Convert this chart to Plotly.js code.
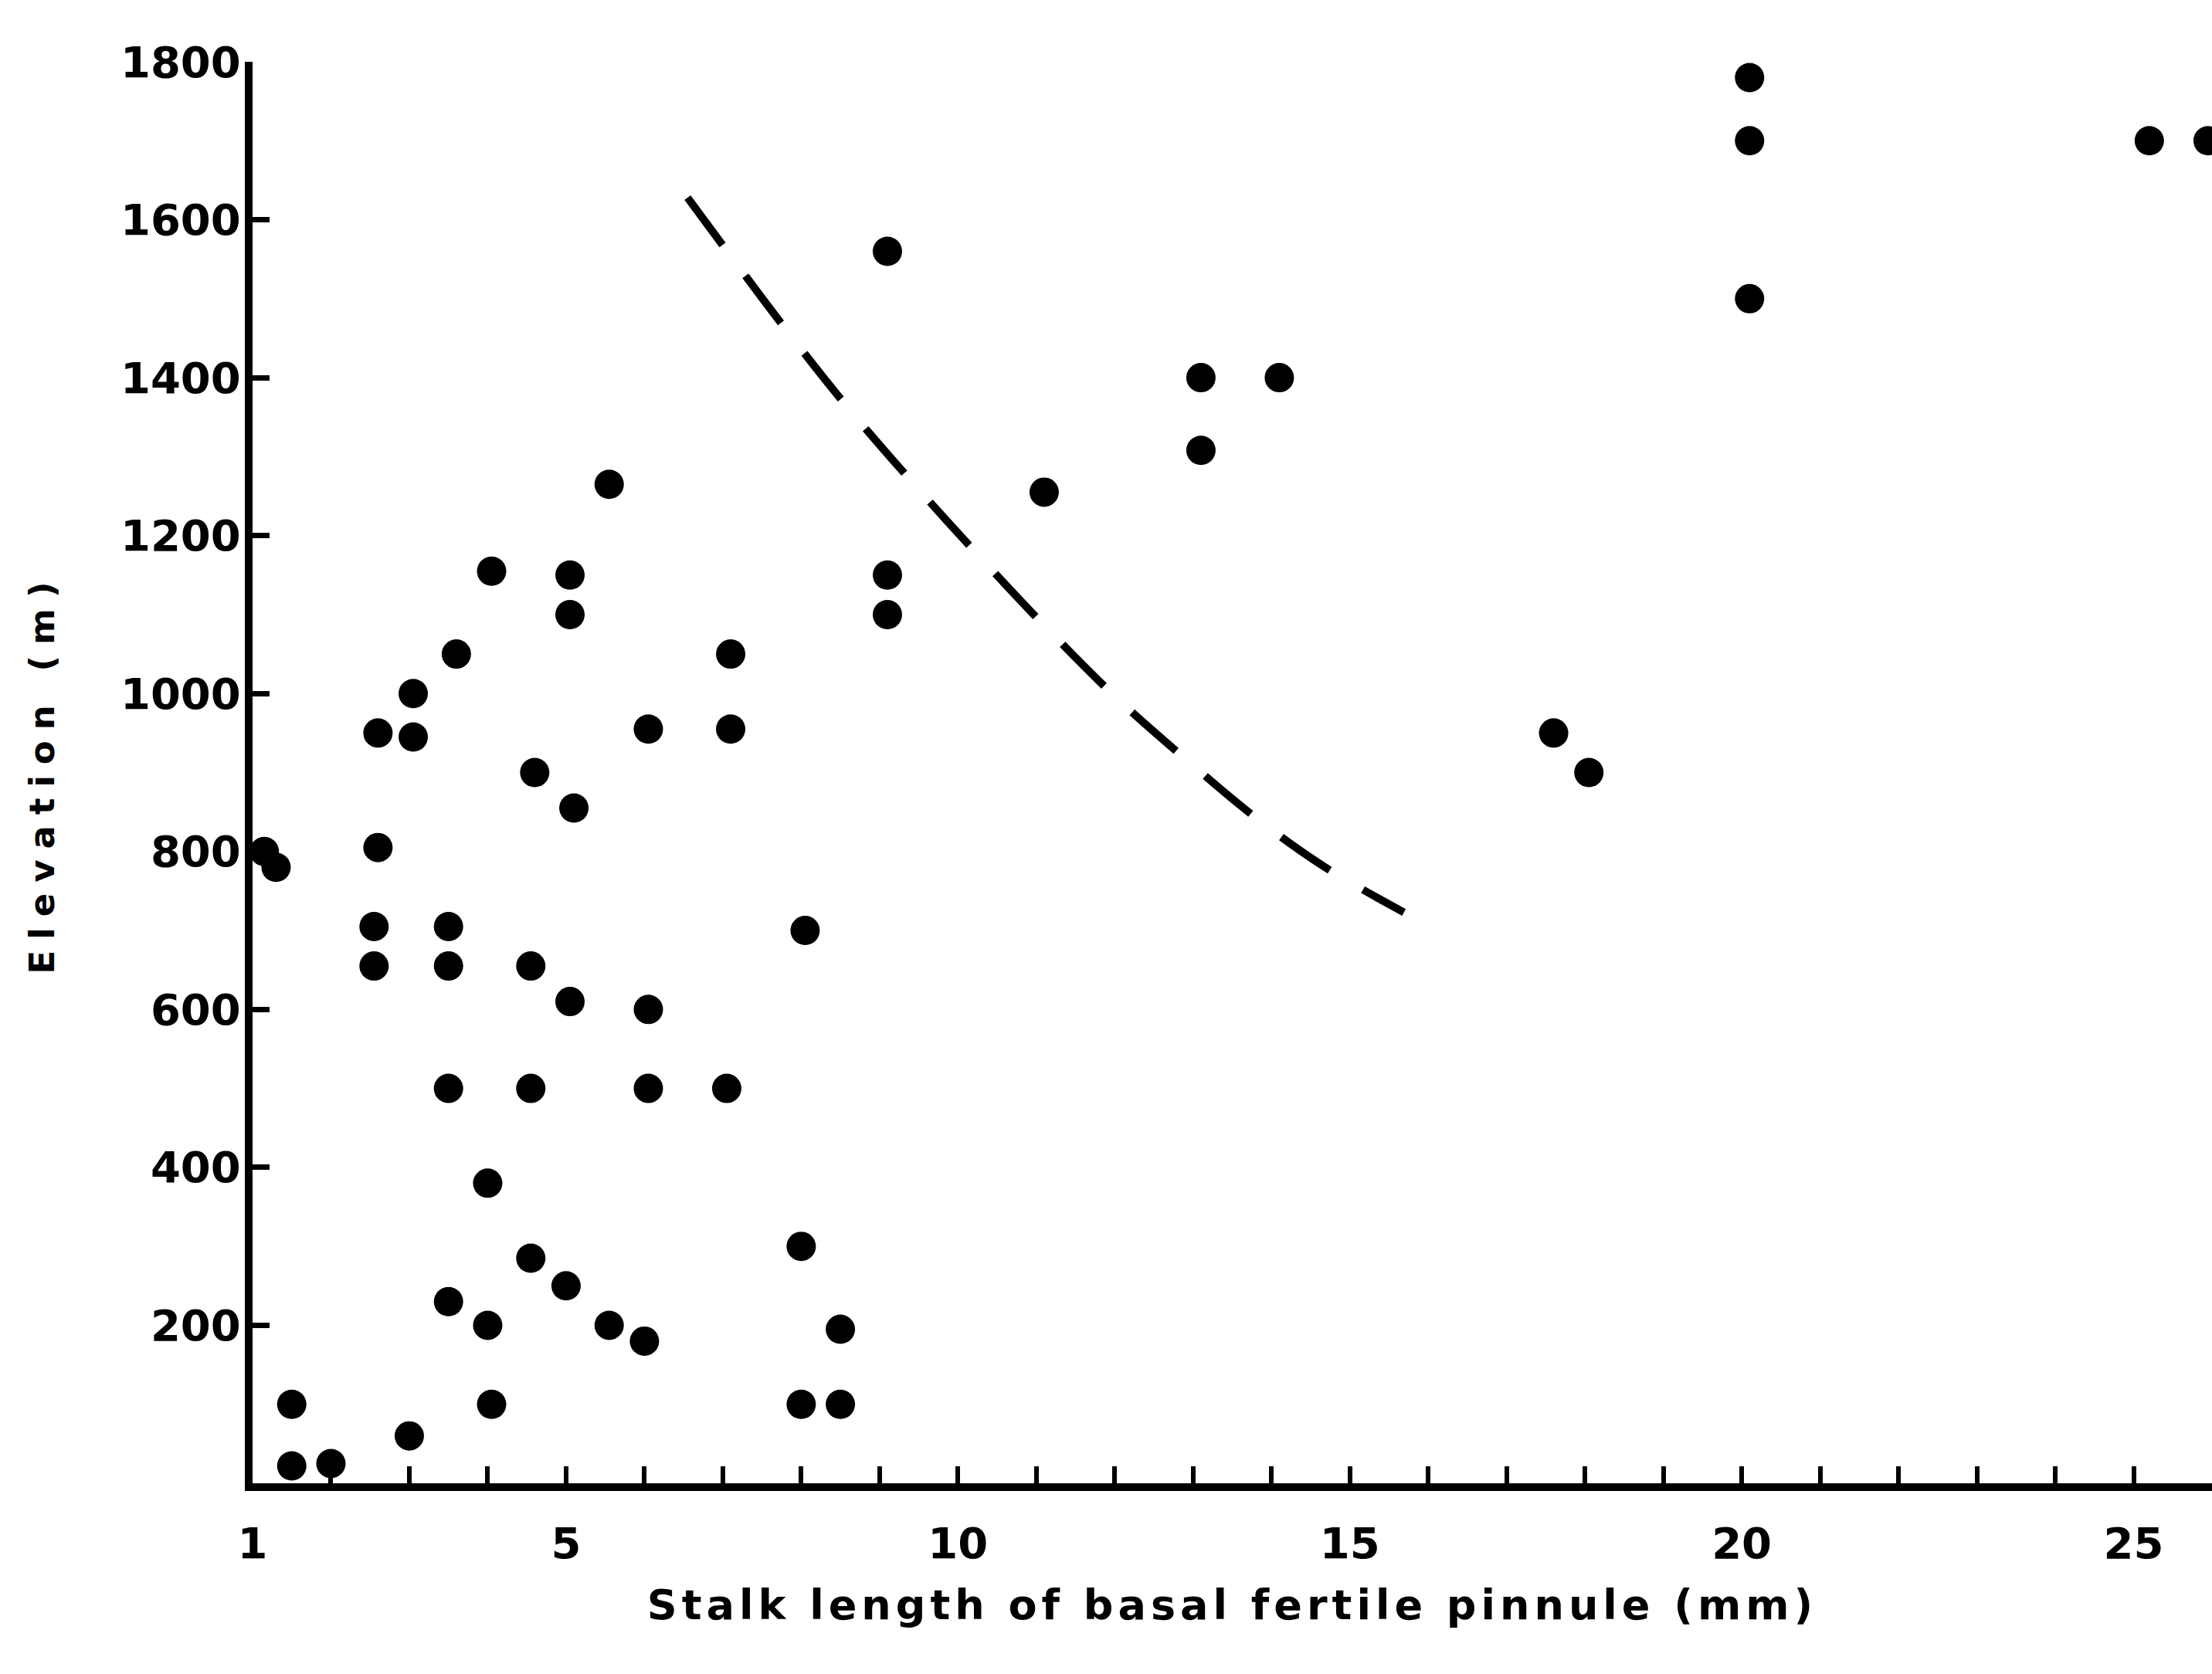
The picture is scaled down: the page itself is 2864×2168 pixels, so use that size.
<!DOCTYPE html>
<html>
<head>
<meta charset="utf-8">
<script src="https://cdn.plot.ly/plotly-3.0.1.min.js"></script>
<style>
  html, body { margin: 0; padding: 0; background: #ffffff; }
  #chart { width: 2864px; height: 2168px; }
  .xtitle { letter-spacing: 6px; }
  .ytitle { letter-spacing: 14px; }
</style>
</head>
<body>
<div id="chart"></div>
<script>
// Stalk length of basal fertile pinnule (mm) for each specimen
const stalkLength = [
  1.15, 1.3,
  1.5, 1.5, 2.0,
  2.6, 2.6, 2.55, 2.55,
  3.05, 3.05, 3.0,
  3.6, 3.5, 3.5, 3.5, 3.5,
  4.05, 4.0, 4.0, 4.05,
  4.6, 4.55, 4.55, 4.55,
  5.05, 5.05, 5.1, 5.05, 5.0,
  5.55, 5.55,
  6.05, 6.05, 6.05, 6.0,
  7.1, 7.1, 7.05,
  8.05, 8.0, 8.0,
  8.5, 8.5,
  9.1, 9.1, 9.1,
  11.1,
  13.1, 13.1, 14.1,
  17.6, 18.05,
  20.1, 20.1, 20.1,
  25.2, 25.95
];
// Elevation (m) for each specimen
const elevation = [
  800, 780,
  100, 22, 25,
  950, 805, 705, 655,
  1000, 945, 60,
  1050, 705, 655, 500, 230,
  1155, 380, 200, 100,
  900, 655, 500, 285,
  1150, 1100, 855, 610, 250,
  1265, 200,
  955, 600, 500, 180,
  1050, 955, 500,
  700, 300, 100,
  100, 195,
  1560, 1150, 1100,
  1255,
  1400, 1308, 1400,
  950, 900,
  1780, 1700, 1500,
  1700, 1700
];
// Dashed boundary curve
const curveX = [6.55, 7.79, 8.58, 9.45, 10.27, 11.18, 12.04, 12.87, 13.81, 14.67, 15.69];
const curveY = [1628, 1463, 1364, 1264, 1174, 1078, 993, 920, 842, 781, 723];

// Tick labels
const xTickVals = [1, 5, 10, 15, 20, 25];
const xTickText = ['1', '5', '10', '15', '20', '25'];
const yTickVals = [200, 400, 600, 800, 1000, 1200, 1400, 1600, 1800];
const yTickText = ['200', '400', '600', '800', '1000', '1200', '1400', '1600', '1800'];

const fontFamily = 'DejaVu Sans, Liberation Sans, Arial, sans-serif';

const traces = [
  {
    x: curveX,
    y: curveY,
    type: 'scatter',
    mode: 'lines',
    line: { color: '#000000', width: 10, dash: '76px,50px', shape: 'spline', smoothing: 1 },
    hoverinfo: 'skip'
  },
  {
    x: stalkLength,
    y: elevation,
    type: 'scatter',
    mode: 'markers',
    marker: { color: '#000000', size: 38, line: { width: 0 } },
    cliponaxis: false
  }
];

const layout = {
  width: 2864,
  height: 2168,
  margin: { l: 327, r: 0, t: 80, b: 247, pad: 0 },
  paper_bgcolor: '#ffffff',
  plot_bgcolor: '#ffffff',
  showlegend: false,
  xaxis: {
    range: [1, 26],
    showline: true,
    linewidth: 10,
    linecolor: '#000000',
    showgrid: false,
    zeroline: false,
    ticks: 'inside',
    ticklen: 22,
    tickwidth: 6,
    tickcolor: '#000000',
    tickmode: 'array',
    tickvals: xTickVals,
    ticktext: xTickText,
    minor: { dtick: 1, tick0: 0, ticks: 'inside', ticklen: 22, tickwidth: 6, tickcolor: '#000000', showgrid: false },
    ticklabelstandoff: 20,
    tickfont: { family: fontFamily, size: 56, weight: 'bold', color: '#000000' },
    title: {
      text: 'Stalk length of basal fertile pinnule (mm)',
      font: { family: fontFamily, size: 54, weight: 'bold', color: '#000000' },
      standoff: 33
    }
  },
  yaxis: {
    range: [0, 1800],
    showline: true,
    linewidth: 10,
    linecolor: '#000000',
    showgrid: false,
    zeroline: false,
    ticks: 'inside',
    ticklen: 22,
    tickwidth: 7,
    tickcolor: '#000000',
    tickmode: 'array',
    tickvals: yTickVals,
    ticktext: yTickText,
    ticklabelstandoff: -6,
    tickfont: { family: fontFamily, size: 56, weight: 'bold', color: '#000000' },
    title: {
      text: 'Elevation (m)',
      font: { family: fontFamily, size: 45, weight: 'bold', color: '#000000' },
      standoff: 75
    }
  }
};

Plotly.newPlot('chart', traces, layout, { staticPlot: true, displayModeBar: false });
</script>
</body>
</html>
